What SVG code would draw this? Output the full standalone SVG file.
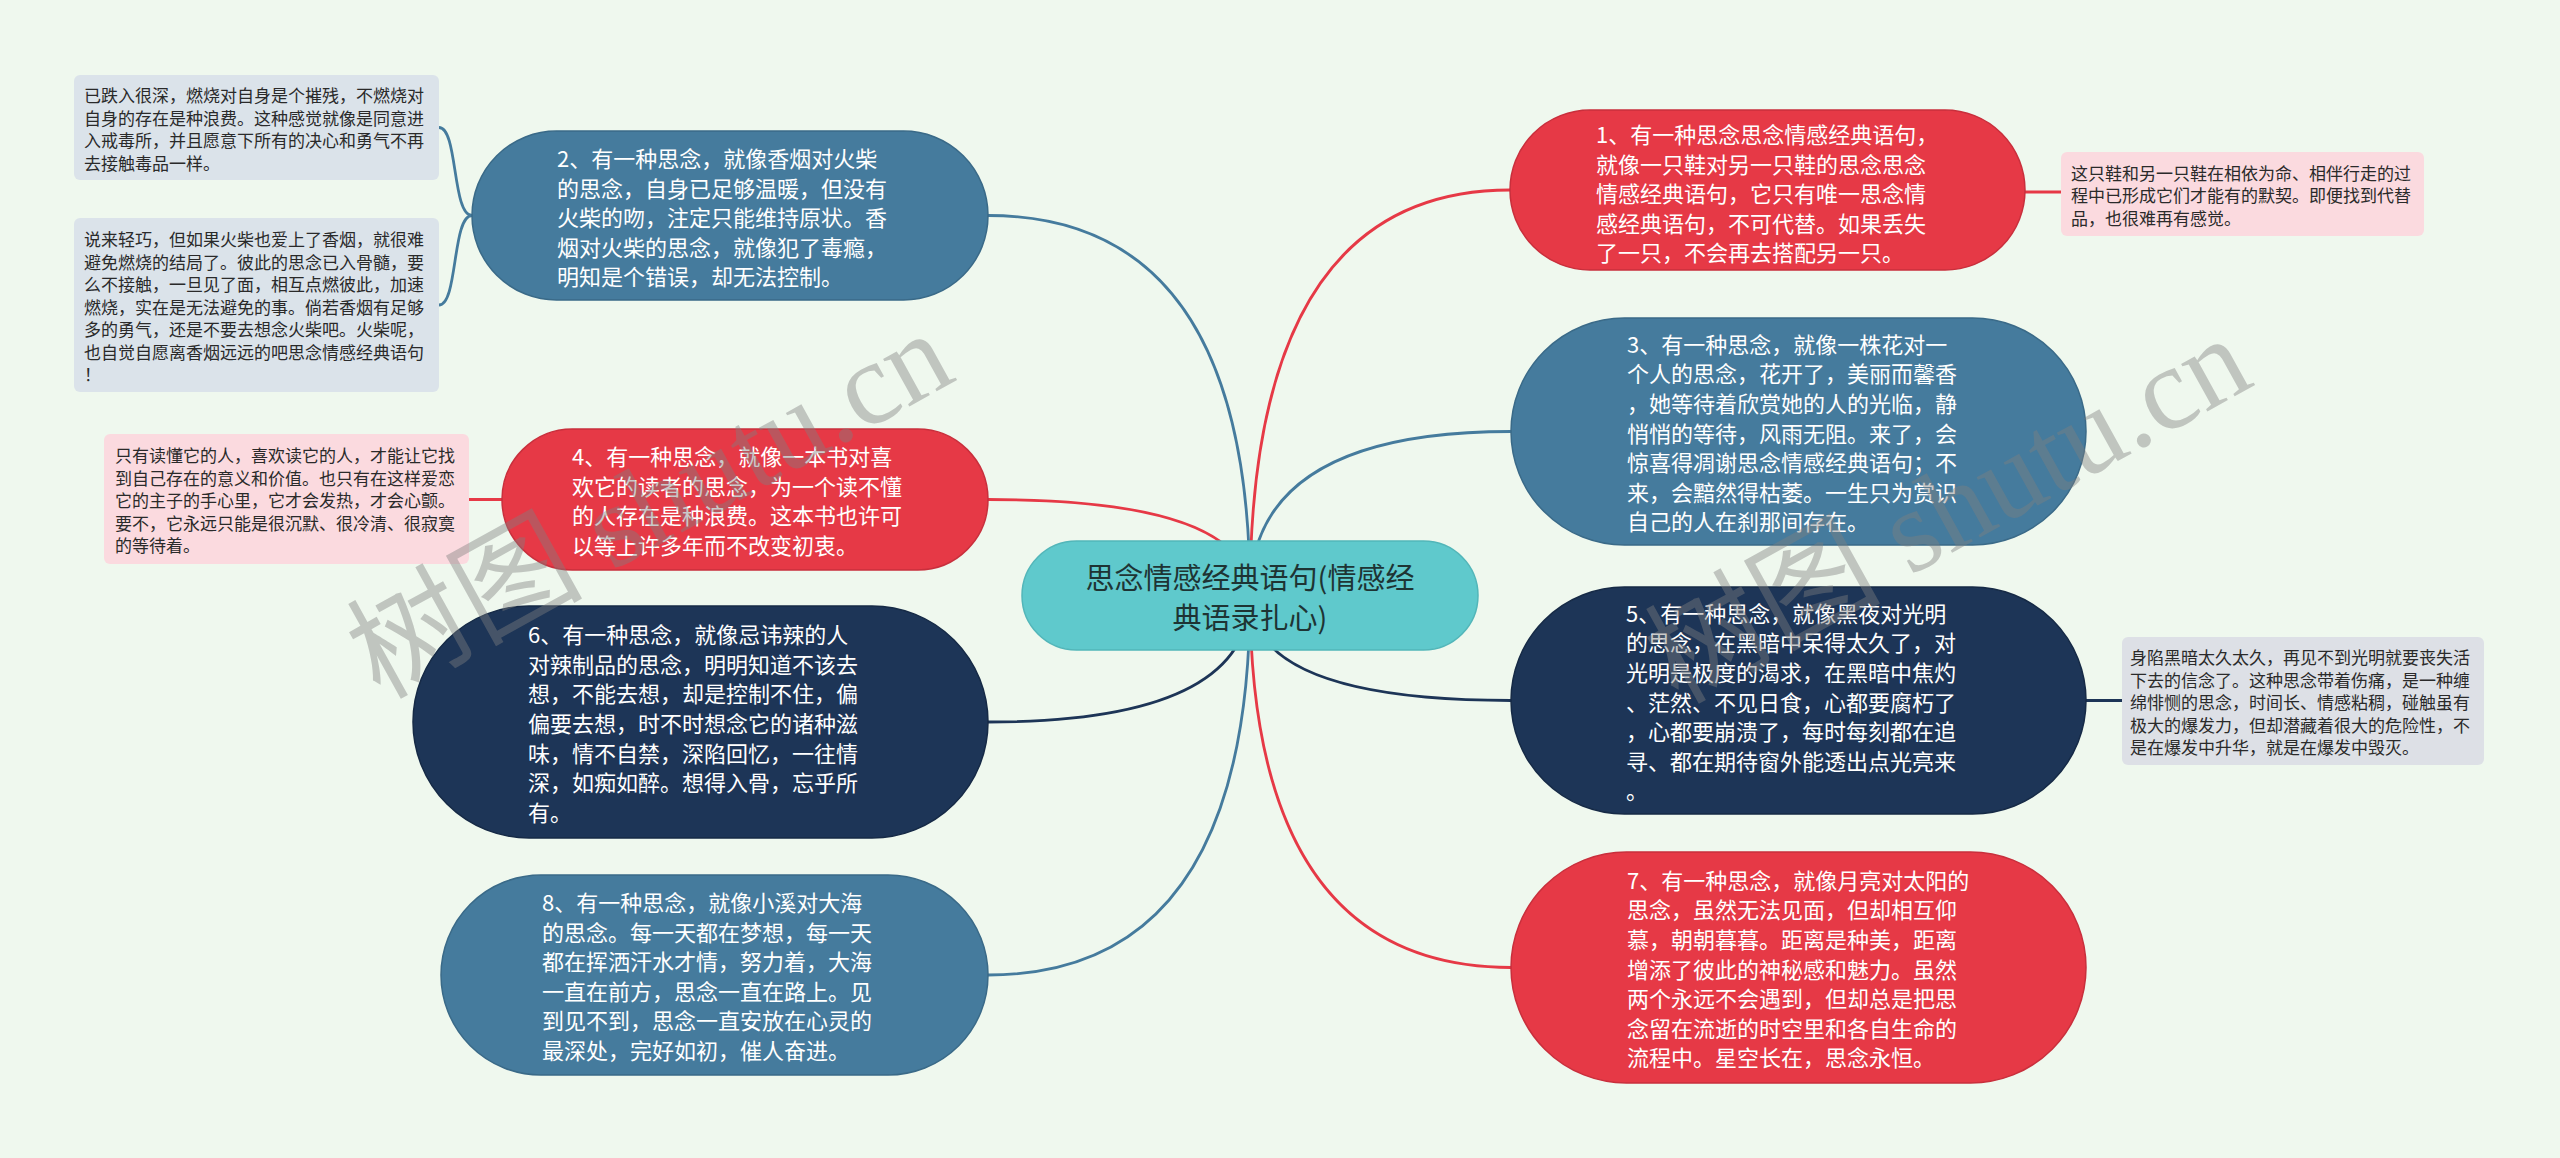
<svg xmlns="http://www.w3.org/2000/svg" width="2560" height="1158" viewBox="0 0 2560 1158">
<style>
.bg{fill:#eff8ee}
text{font-family:"Noto Sans CJK SC","Noto Sans",sans-serif}
.node text{font-size:22px;fill:#ffffff;dominant-baseline:central}
.red rect{fill:#e63946;stroke:#c92f3c;stroke-width:1.5}
.blue rect{fill:#457b9d;stroke:#3a6a88;stroke-width:1.5}
.navy rect{fill:#1d3557;stroke:#162a46;stroke-width:1.5}
.center rect{fill:#5fc9cc;stroke:#52b6b9;stroke-width:1.5}
.center text{font-size:29px;fill:#1e3434;dominant-baseline:central;text-anchor:middle}
.note text{font-size:17px;fill:#2a2a2a;dominant-baseline:central}
.pink rect{fill:#fbdadf}
.grey rect{fill:#dbe3ea}
.grey2 rect{fill:#dde0e6}
.links path{fill:none;stroke-width:2.8}
.l-red{stroke:#e63946}
.l-blue{stroke:#457b9d}
.l-navy{stroke:#1d3557}
.wm{font-family:"Liberation Serif","Noto Sans CJK SC",serif;font-size:118px;fill:#808080;opacity:0.42;text-anchor:middle;dominant-baseline:central}
</style>
<rect class="bg" x="0" y="0" width="2560" height="1158"/>

<g id="connectors" class="links">
  <path class="l-red" d="M1250 595 Q1250 190 1510 190"/>
  <path class="l-blue" d="M1250 595 Q1250 215.5 988 215.5"/>
  <path class="l-blue" d="M1250 595 Q1250 431.5 1511 431.5"/>
  <path class="l-red" d="M1250 595 Q1250 499.5 988 499.5"/>
  <path class="l-navy" d="M1250 595 Q1250 700.5 1511 700.5"/>
  <path class="l-navy" d="M1250 595 Q1250 722 988 722"/>
  <path class="l-red" d="M1250 595 Q1250 967.5 1511 967.5"/>
  <path class="l-blue" d="M1250 595 Q1250 975 988 975"/>
  <path class="l-red" d="M2025 192 L2061 192"/>
  <path class="l-red" d="M502 499.5 L469 499.5"/>
  <path class="l-navy" d="M2086 700.5 L2122 700.5"/>
  <path class="l-blue" d="M472 215.5 C452 215.5 458 127.5 439 127.5"/>
  <path class="l-blue" d="M472 215.5 C452 215.5 458 305 439 305"/>
</g>

<g id="center" class="center">
  <rect x="1022" y="541" width="456" height="109" rx="54.5"/>
  <text><tspan x="1250" y="576">思念情感经典语句(情感经</tspan><tspan x="1250" y="616">典语录扎心)</tspan></text>
</g>

<g id="node1" class="node red">
  <rect x="1510" y="110" width="515" height="160" rx="80"/>
  <text><tspan x="1596" y="133">1、有一种思念思念情感经典语句，</tspan><tspan x="1596" y="163">就像一只鞋对另一只鞋的思念思念</tspan><tspan x="1596" y="192">情感经典语句，它只有唯一思念情</tspan><tspan x="1596" y="222">感经典语句，不可代替。如果丢失</tspan><tspan x="1596" y="251">了一只，不会再去搭配另一只。</tspan></text>
</g>

<g id="node2" class="node blue">
  <rect x="472" y="131" width="516" height="169" rx="84.5"/>
  <text><tspan x="557" y="157">2、有一种思念，就像香烟对火柴</tspan><tspan x="557" y="186.5">的思念，自身已足够温暖，但没有</tspan><tspan x="557" y="216">火柴的吻，注定只能维持原状。香</tspan><tspan x="557" y="245.5">烟对火柴的思念，就像犯了毒瘾，</tspan><tspan x="557" y="275">明知是个错误，却无法控制。</tspan></text>
</g>

<g id="node3" class="node blue">
  <rect x="1511" y="318" width="575" height="227" rx="113.5"/>
  <text><tspan x="1627" y="342.7">3、有一种思念，就像一株花对一</tspan><tspan x="1627" y="372.3">个人的思念，花开了，美丽而馨香</tspan><tspan x="1627" y="401.9">，她等待着欣赏她的人的光临，静</tspan><tspan x="1627" y="431.5">悄悄的等待，风雨无阻。来了，会</tspan><tspan x="1627" y="461.1">惊喜得凋谢思念情感经典语句；不</tspan><tspan x="1627" y="490.7">来，会黯然得枯萎。一生只为赏识</tspan><tspan x="1627" y="520.3">自己的人在刹那间存在。</tspan></text>
</g>

<g id="node4" class="node red">
  <rect x="502" y="429" width="486" height="141" rx="70.5"/>
  <text><tspan x="572" y="455.1">4、有一种思念，就像一本书对喜</tspan><tspan x="572" y="484.7">欢它的读者的思念，为一个读不懂</tspan><tspan x="572" y="514.3">的人存在是种浪费。这本书也许可</tspan><tspan x="572" y="543.9">以等上许多年而不改变初衷。</tspan></text>
</g>

<g id="node5" class="node navy">
  <rect x="1511" y="587" width="575" height="227" rx="113.5"/>
  <text><tspan x="1626" y="611.7">5、有一种思念，就像黑夜对光明</tspan><tspan x="1626" y="641.3">的思念，在黑暗中呆得太久了，对</tspan><tspan x="1626" y="670.9">光明是极度的渴求，在黑暗中焦灼</tspan><tspan x="1626" y="700.5">、茫然、不见日食，心都要腐朽了</tspan><tspan x="1626" y="730.1">，心都要崩溃了，每时每刻都在追</tspan><tspan x="1626" y="759.7">寻、都在期待窗外能透出点光亮来</tspan><tspan x="1626" y="789.3">。</tspan></text>
</g>

<g id="node6" class="node navy">
  <rect x="413" y="606" width="575" height="232" rx="116"/>
  <text><tspan x="528" y="633.2">6、有一种思念，就像忌讳辣的人</tspan><tspan x="528" y="662.8">对辣制品的思念，明明知道不该去</tspan><tspan x="528" y="692.4">想，不能去想，却是控制不住，偏</tspan><tspan x="528" y="722">偏要去想，时不时想念它的诸种滋</tspan><tspan x="528" y="751.6">味，情不自禁，深陷回忆，一往情</tspan><tspan x="528" y="781.2">深，如痴如醉。想得入骨，忘乎所</tspan><tspan x="528" y="810.8">有。</tspan></text>
</g>

<g id="node7" class="node red">
  <rect x="1511" y="852" width="575" height="231" rx="115.5"/>
  <text><tspan x="1627" y="878.7">7、有一种思念，就像月亮对太阳的</tspan><tspan x="1627" y="908.3">思念，虽然无法见面，但却相互仰</tspan><tspan x="1627" y="937.9">慕，朝朝暮暮。距离是种美，距离</tspan><tspan x="1627" y="967.5">增添了彼此的神秘感和魅力。虽然</tspan><tspan x="1627" y="997.1">两个永远不会遇到，但却总是把思</tspan><tspan x="1627" y="1026.7">念留在流逝的时空里和各自生命的</tspan><tspan x="1627" y="1056.3">流程中。星空长在，思念永恒。</tspan></text>
</g>

<g id="node8" class="node blue">
  <rect x="441" y="875" width="547" height="200" rx="100"/>
  <text><tspan x="542" y="901">8、有一种思念，就像小溪对大海</tspan><tspan x="542" y="930.6">的思念。每一天都在梦想，每一天</tspan><tspan x="542" y="960.2">都在挥洒汗水才情，努力着，大海</tspan><tspan x="542" y="989.8">一直在前方，思念一直在路上。见</tspan><tspan x="542" y="1019.4">到见不到，思念一直安放在心灵的</tspan><tspan x="542" y="1049">最深处，完好如初，催人奋进。</tspan></text>
</g>

<g id="note1" class="note pink">
  <rect x="2061" y="152" width="363" height="84" rx="6"/>
  <text><tspan x="2071" y="171.5">这只鞋和另一只鞋在相依为命、相伴行走的过</tspan><tspan x="2071" y="194">程中已形成它们才能有的默契。即便找到代替</tspan><tspan x="2071" y="216.5">品，也很难再有感觉。</tspan></text>
</g>

<g id="note2a" class="note grey">
  <rect x="74" y="75" width="365" height="105" rx="6"/>
  <text><tspan x="84" y="94">已跌入很深，燃烧对自身是个摧残，不燃烧对</tspan><tspan x="84" y="116.5">自身的存在是种浪费。这种感觉就像是同意进</tspan><tspan x="84" y="139">入戒毒所，并且愿意下所有的决心和勇气不再</tspan><tspan x="84" y="161.5">去接触毒品一样。</tspan></text>
</g>

<g id="note2b" class="note grey">
  <rect x="74" y="218" width="365" height="174" rx="6"/>
  <text><tspan x="84" y="238">说来轻巧，但如果火柴也爱上了香烟，就很难</tspan><tspan x="84" y="260.5">避免燃烧的结局了。彼此的思念已入骨髓，要</tspan><tspan x="84" y="283">么不接触，一旦见了面，相互点燃彼此，加速</tspan><tspan x="84" y="305.5">燃烧，实在是无法避免的事。倘若香烟有足够</tspan><tspan x="84" y="328">多的勇气，还是不要去想念火柴吧。火柴呢，</tspan><tspan x="84" y="350.5">也自觉自愿离香烟远远的吧思念情感经典语句</tspan><tspan x="84" y="373">！</tspan></text>
</g>

<g id="note4" class="note pink">
  <rect x="104" y="434" width="365" height="130" rx="6"/>
  <text><tspan x="115" y="454">只有读懂它的人，喜欢读它的人，才能让它找</tspan><tspan x="115" y="476.5">到自己存在的意义和价值。也只有在这样爱恋</tspan><tspan x="115" y="499">它的主子的手心里，它才会发热，才会心颤。</tspan><tspan x="115" y="521.5">要不，它永远只能是很沉默、很冷清、很寂寞</tspan><tspan x="115" y="544">的等待着。</tspan></text>
</g>

<g id="note5" class="note grey2">
  <rect x="2122" y="637" width="362" height="128" rx="6"/>
  <text><tspan x="2130" y="656">身陷黑暗太久太久，再见不到光明就要丧失活</tspan><tspan x="2130" y="678.5">下去的信念了。这种思念带着伤痛，是一种缠</tspan><tspan x="2130" y="701">绵悱恻的思念，时间长、情感粘稠，碰触虽有</tspan><tspan x="2130" y="723.5">极大的爆发力，但却潜藏着很大的危险性，不</tspan><tspan x="2130" y="746">是在爆发中升华，就是在爆发中毁灭。</tspan></text>
</g>

<g id="watermarks">
  <text class="wm" transform="translate(650 505) rotate(-29)">树图 shutu.cn</text>
  <text class="wm" transform="translate(1948 510) rotate(-29)">树图 shutu.cn</text>
</g>
</svg>
